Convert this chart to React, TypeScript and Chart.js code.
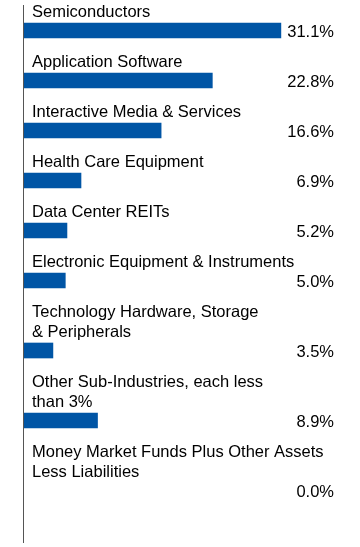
import React, { useEffect, useRef } from "react";
import { Chart, registerables } from "chart.js";

Chart.register(...registerables);

const categories: string[][] = [
  ["Semiconductors"],
  ["Application Software"],
  ["Interactive Media & Services"],
  ["Health Care Equipment"],
  ["Data Center REITs"],
  ["Electronic Equipment & Instruments"],
  ["Technology Hardware, Storage", "& Peripherals"],
  ["Other Sub-Industries, each less", "than 3%"],
  ["Money Market Funds Plus Other Assets", "Less Liabilities"],
];

const values: number[] = [31.1, 22.8, 16.6, 6.9, 5.2, 5.0, 3.5, 8.9, 0.0];

const valueLabels: string[] = ["31.1%", "22.8%", "16.6%", "6.9%", "5.2%", "5.0%", "3.5%", "8.9%", "0.0%"];

const W = 360;
const H = 547;
const LINE_H = 20;
const FONT = '16.5px "Liberation Sans", Arial, sans-serif';

// slot positions derived from the number of label lines above each bar
function slotPositions(): number[] {
  const out: number[] = [];
  let y = 0;
  for (const c of categories) {
    y += LINE_H * c.length + 5.5;
    out.push(y);
    y += 24.5;
  }
  return out;
}

const labelPlugin = {
  id: "labelPlugin",
  afterDatasetsDraw(chart: any) {
    const { ctx, chartArea } = chart;
    const meta = chart.getDatasetMeta(0);
    ctx.save();
    // axis line
    ctx.strokeStyle = "#555555";
    ctx.lineWidth = 1;
    ctx.beginPath();
    ctx.moveTo(chartArea.left - 0.5, chartArea.top);
    ctx.lineTo(chartArea.left - 0.5, chartArea.bottom);
    ctx.stroke();

    ctx.font = FONT;
    ctx.fillStyle = "#000000";
    meta.data.forEach((el: any, i: number) => {
      const cy = el.y;
      const lines = categories[i];
      ctx.textAlign = "left";
      ctx.textBaseline = "alphabetic";
      lines.forEach((ln, k) => {
        const by = cy - 14 - (lines.length - 1 - k) * 19.5;
        ctx.fillText(ln, chartArea.left + 8, by);
      });
      ctx.textAlign = "right";
      ctx.fillText(valueLabels[i], chartArea.right, cy + 6);
    });
    ctx.restore();
  },
};

export default function App() {
  const ref = useRef<HTMLCanvasElement | null>(null);
  useEffect(() => {
    if (!ref.current) return;
    const pos = slotPositions();
    const chart = new Chart(ref.current, {
      type: "bar",
      data: {
        datasets: [
          {
            data: values.map((v, i) => ({ x: v, y: pos[i] })) as any,
            backgroundColor: (c: any) => (c.raw && c.raw.x === 0 ? "rgba(0,0,0,0)" : "#0055A5"),
            borderWidth: 0,
            barThickness: 15,
          },
        ],
      },
      options: {
        indexAxis: "y",
        animation: false,
        responsive: false,
        maintainAspectRatio: false,
        layout: { padding: { left: 24, right: 26, top: 5, bottom: 4 } },
        plugins: { legend: { display: false }, tooltip: { enabled: false } },
        scales: {
          x: { type: "linear", min: 0, max: 37.53, display: false, offset: false },
          y: { type: "linear", reverse: true, min: 0, max: 538, display: false, offset: false },
        },
      },
      plugins: [labelPlugin],
    });
    return () => chart.destroy();
  }, []);
  return (
    <div style={{ position: "fixed", left: 0, top: 0, width: W, height: H, background: "#fff" }}>
      <canvas ref={ref} width={W} height={H} style={{ width: W, height: H, display: "block" }} />
    </div>
  );
}
